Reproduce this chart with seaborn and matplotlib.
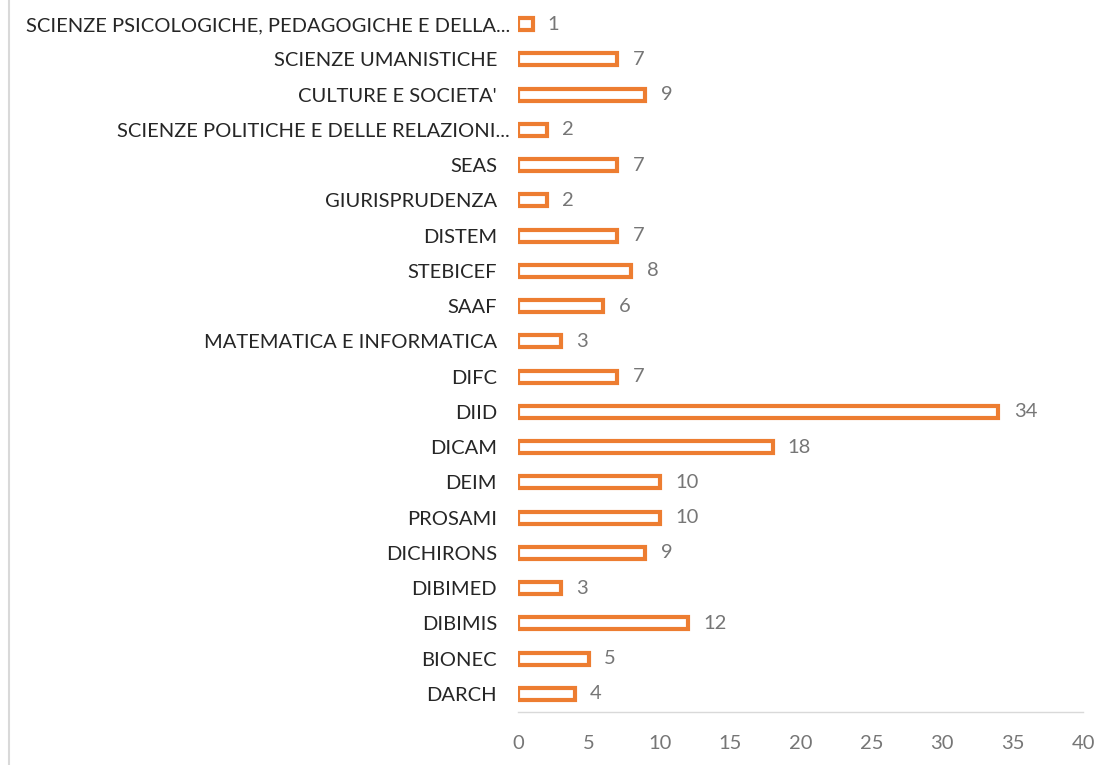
import seaborn as sns
import matplotlib.pyplot as plt
from matplotlib.lines import Line2D

# categories top -> bottom, as in the picture
dipartimenti = [
    "SCIENZE PSICOLOGICHE, PEDAGOGICHE E DELLA...",
    "SCIENZE UMANISTICHE",
    "CULTURE E SOCIETA'",
    "SCIENZE POLITICHE E DELLE RELAZIONI...",
    "SEAS",
    "GIURISPRUDENZA",
    "DISTEM",
    "STEBICEF",
    "SAAF",
    "MATEMATICA E INFORMATICA",
    "DIFC",
    "DIID",
    "DICAM",
    "DEIM",
    "PROSAMI",
    "DICHIRONS",
    "DIBIMED",
    "DIBIMIS",
    "BIONEC",
    "DARCH",
]
conteggi = [1, 7, 9, 2, 7, 2, 7, 8, 6, 3, 7, 34, 18, 10, 10, 9, 3, 12, 5, 4]
x_ticks = [0, 5, 10, 15, 20, 25, 30, 35, 40]

orange = '#ED7D31'

sns.set_style('white')
plt.rcParams['font.family'] = ['Lato', 'DejaVu Sans']

fig = plt.figure(figsize=(11.09, 7.65), dpi=100)
ax = fig.add_axes([0.4675, 0.0699, 0.5091, 0.9217])

sns.barplot(x=conteggi, y=dipartimenti, orient='h', color='white', saturation=1,
            edgecolor=orange, linewidth=3, width=0.34, ax=ax)

ax.bar_label(ax.containers[0], padding=11, fontsize=14.5, color='#767676')

ax.set_xlim(0, 40)
ax.set_xticks(x_ticks)
ax.tick_params(axis='x', length=0, pad=17, labelsize=14.5, labelcolor='#767676')
ax.tick_params(axis='y', length=0, pad=15.5, labelsize=14.5, labelcolor='#262626')
ax.set_xlabel('')
ax.set_ylabel('')

for s in ['top', 'right', 'left']:
    ax.spines[s].set_visible(False)
ax.spines['bottom'].set_color('#d9d9d9')
ax.spines['bottom'].set_linewidth(1)

# truncated labels sit closer to the bars
for i, name in enumerate(dipartimenti):
    if name.endswith('...'):
        ax.yaxis.get_major_ticks()[i].set_pad(6)

# chart frame edge on the left
fig.add_artist(Line2D([8.5 / 1109, 8.5 / 1109], [0, 1], color='#d9d9d9', linewidth=1.5))

plt.savefig('out.png', dpi=100)
